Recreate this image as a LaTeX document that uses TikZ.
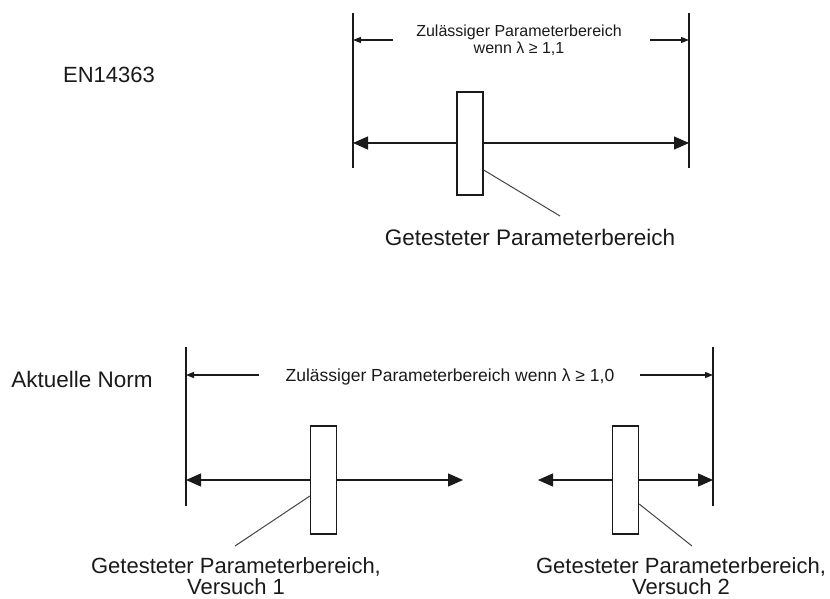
\documentclass[tikz,border=0pt]{standalone}
\usepackage{fontspec}
\setmainfont{Liberation Sans}
\usetikzlibrary{arrows.meta}
\definecolor{ink}{HTML}{1A1A1A}
\definecolor{lead}{HTML}{444444}
\begin{document}
\begin{tikzpicture}[x=1pt,y=-1pt,
  limit/.style={draw=ink,line width=1.4pt},
  mainarrow/.style={draw=ink,line width=1.4pt,{Triangle[length=15pt,width=13pt]}-{Triangle[length=15pt,width=13pt]}},
  dimarrow/.style={draw=ink,line width=1.1pt,-{Triangle[length=8pt,width=6pt]}},
  testbox/.style={draw=ink,fill=white,line width=1.3pt,rectangle,inner sep=0pt,minimum width=26pt},
  leader/.style={draw=lead,line width=1pt},
  lbl/.style={inner sep=0pt,align=center,text=ink}]
\useasboundingbox (0,0) rectangle (830,599);
% ---------- top: EN14363 ----------
\node[lbl,anchor=base,font=\fontsize{22}{24}\selectfont] (en) at (109,83) {EN14363};
\coordinate (tlt) at (353,13); \coordinate (tlb) at (353,168);
\coordinate (trt) at (689,13); \coordinate (trb) at (689,168);
\draw[limit] (tlt) -- (tlb);
\draw[limit] (trt) -- (trb);
\coordinate (tal) at (353,143); \coordinate (tar) at (689,143);
\draw[mainarrow] (tal) -- (tar);
\coordinate (td1) at (393,40); \coordinate (td1e) at (353,40);
\coordinate (td2) at (650,40); \coordinate (td2e) at (689,40);
\draw[dimarrow] (td1) -- (td1e);
\draw[dimarrow] (td2) -- (td2e);
\node[lbl,font=\fontsize{16}{17}\selectfont] (tdim) at (519,40.5) {Zulässiger Parameterbereich\\wenn λ ≥ 1,1};
\node[testbox,minimum height=103pt] (tb) at (470,143.5) {};
\coordinate (tle) at (560,216);
\draw[leader] ([yshift=-26.5pt]tb.east) -- (tle);
\node[lbl,anchor=base,font=\fontsize{22.5}{24}\selectfont] (tlab) at (530,245) {Getesteter Parameterbereich};
% ---------- bottom: Aktuelle Norm ----------
\node[lbl,anchor=base,font=\fontsize{22.5}{24}\selectfont] (an) at (82,387) {Aktuelle Norm};
\coordinate (blt) at (186,347); \coordinate (blb) at (186,506);
\coordinate (brt) at (713,347); \coordinate (brb) at (713,506);
\draw[limit] (blt) -- (blb);
\draw[limit] (brt) -- (brb);
\coordinate (ba1l) at (186,480); \coordinate (ba1r) at (463,480);
\coordinate (ba2l) at (538,480); \coordinate (ba2r) at (713,480);
\draw[mainarrow] (ba1l) -- (ba1r);
\draw[mainarrow] (ba2l) -- (ba2r);
\coordinate (bd1) at (259,375); \coordinate (bd1e) at (186,375);
\coordinate (bd2) at (640,375); \coordinate (bd2e) at (713,375);
\draw[dimarrow] (bd1) -- (bd1e);
\draw[dimarrow] (bd2) -- (bd2e);
\node[lbl,anchor=base,font=\fontsize{17.5}{19}\selectfont] (bdim) at (450,381) {Zulässiger Parameterbereich wenn λ ≥ 1,0};
\node[testbox,minimum height=108pt] (b1) at (323.5,480) {};
\node[testbox,minimum height=108pt] (b2) at (625.5,480) {};
\coordinate (b1e) at (235,546);
\coordinate (b2e) at (692,546);
\draw[leader] ([yshift=-16pt]b1.west) -- (b1e);
\draw[leader] ([yshift=-24pt]b2.east) -- (b2e);
\node[lbl,font=\fontsize{22}{21}\selectfont] (l1) at (236,576) {Getesteter Parameterbereich,\\Versuch 1};
\node[lbl,font=\fontsize{22}{21}\selectfont] (l2) at (681,576) {Getesteter Parameterbereich,\\Versuch 2};
\end{tikzpicture}
\end{document}
